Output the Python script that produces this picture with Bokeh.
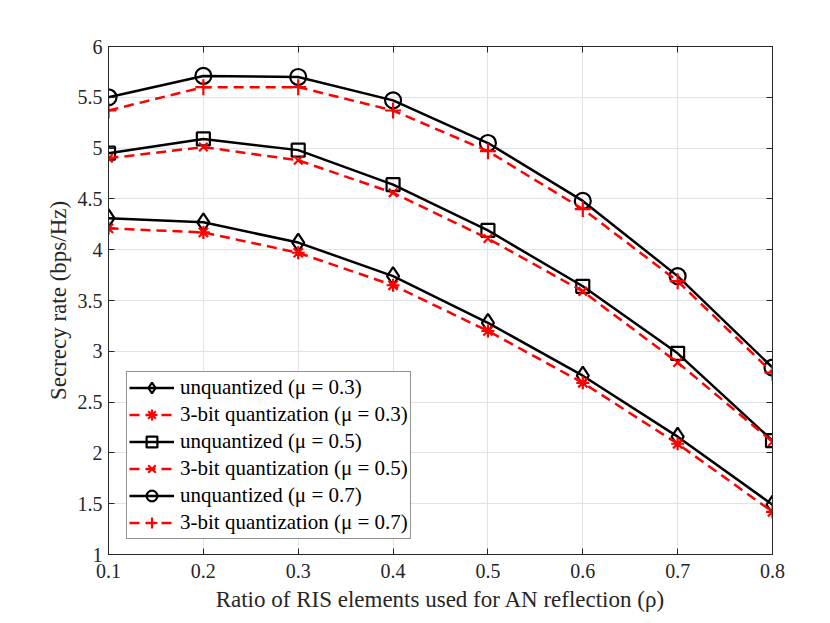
from bokeh.plotting import figure
from bokeh.models import LinearAxis, FixedTicker, Range1d, CustomJSTickFormatter
from bokeh.embed import file_html
from bokeh.resources import INLINE

x = [0.1, 0.2, 0.3, 0.4, 0.5, 0.6, 0.7, 0.8]
unq_03 = [4.31, 4.27, 4.07, 3.74, 3.28, 2.76, 2.16, 1.49]
q_03 = [4.21, 4.17, 3.97, 3.65, 3.20, 2.69, 2.09, 1.42]
unq_05 = [4.95, 5.09, 4.98, 4.64, 4.19, 3.64, 2.98, 2.12]
q_05 = [4.90, 5.01, 4.88, 4.56, 4.11, 3.59, 2.89, 2.11]
unq_07 = [5.50, 5.71, 5.70, 5.47, 5.05, 4.48, 3.74, 2.84]
q_07 = [5.37, 5.60, 5.60, 5.37, 4.97, 4.40, 3.69, 2.79]

x_ticks = [0.1, 0.2, 0.3, 0.4, 0.5, 0.6, 0.7, 0.8]
y_ticks = [1, 1.5, 2, 2.5, 3, 3.5, 4, 4.5, 5, 5.5, 6]

series = [
    ("unquantized (μ = 0.3)", unq_03, "black", "solid", "diamond", 18),
    ("3-bit quantization (μ = 0.3)", q_03, "red", "10 6", "asterisk", 13),
    ("unquantized (μ = 0.5)", unq_05, "black", "solid", "square", 13),
    ("3-bit quantization (μ = 0.5)", q_05, "red", "10 6", "x", 12),
    ("unquantized (μ = 0.7)", unq_07, "black", "solid", "circle", 16),
    ("3-bit quantization (μ = 0.7)", q_07, "red", "10 6", "cross", 16),
]

FONT = "Liberation Serif"
AX = "#262626"

p = figure(width=822, height=615, output_backend="svg", toolbar_location=None,
           x_range=Range1d(0.1, 0.8), y_range=Range1d(1, 6),
           min_border_left=108, min_border_right=50, min_border_top=46, min_border_bottom=61)
p.outline_line_color = AX
p.outline_line_width = 1

for label, ys, col, dash, marker, size in series:
    p.line(x, ys, line_color=col, line_width=2.5, line_dash=dash, legend_label=label)
    p.scatter(x, ys, marker=marker, size=size, line_color=col, line_width=2.2,
              fill_alpha=0, legend_label=label)

for ax in (p.xaxis[0], p.yaxis[0]):
    ax.major_tick_in = 6
    ax.major_tick_out = 0
    ax.minor_tick_line_color = None
    ax.axis_line_color = AX
    ax.major_tick_line_color = AX
    ax.major_label_text_font = FONT
    ax.major_label_text_font_size = "20px"
    ax.major_label_text_color = AX
    ax.axis_label_text_font = FONT
    ax.axis_label_text_font_size = "23px"
    ax.axis_label_text_font_style = "normal"
    ax.axis_label_text_color = AX

p.xaxis.ticker = FixedTicker(ticks=x_ticks)
p.yaxis.ticker = FixedTicker(ticks=y_ticks)
p.xaxis.axis_label = "Ratio of RIS elements used for AN reflection (ρ)"
p.yaxis.axis_label = "Secrecy rate (bps/Hz)"
p.xaxis.major_label_standoff = 9
p.yaxis.major_label_standoff = 6
p.xaxis.axis_label_standoff = 6
p.yaxis.axis_label_standoff = 4

blank = CustomJSTickFormatter(code="return ''")
ra = LinearAxis(ticker=FixedTicker(ticks=y_ticks), formatter=blank,
                major_tick_in=6, major_tick_out=0, minor_tick_line_color=None,
                axis_line_color=AX, major_tick_line_color=AX, major_label_standoff=0)
ta = LinearAxis(ticker=FixedTicker(ticks=x_ticks), formatter=blank,
                major_tick_in=6, major_tick_out=0, minor_tick_line_color=None,
                axis_line_color=AX, major_tick_line_color=AX, major_label_standoff=0)
p.add_layout(ra, "right")
p.add_layout(ta, "above")

p.xgrid.ticker = FixedTicker(ticks=x_ticks)
p.ygrid.ticker = FixedTicker(ticks=y_ticks)
p.grid.grid_line_color = "#e3e3e3"
p.grid.grid_line_width = 1

lg = p.legend[0]
lg.location = (18, 15)
lg.margin = 0
lg.padding = 2
lg.spacing = 0
lg.label_height = 27
lg.glyph_height = 27
lg.glyph_width = 45
lg.label_standoff = 6
lg.label_text_font = FONT
lg.label_text_font_size = "21px"
lg.label_text_color = "black"
lg.border_line_color = AX
lg.border_line_width = 1
lg.background_fill_alpha = 1

open("out.html", "w").write(file_html(p, INLINE))
